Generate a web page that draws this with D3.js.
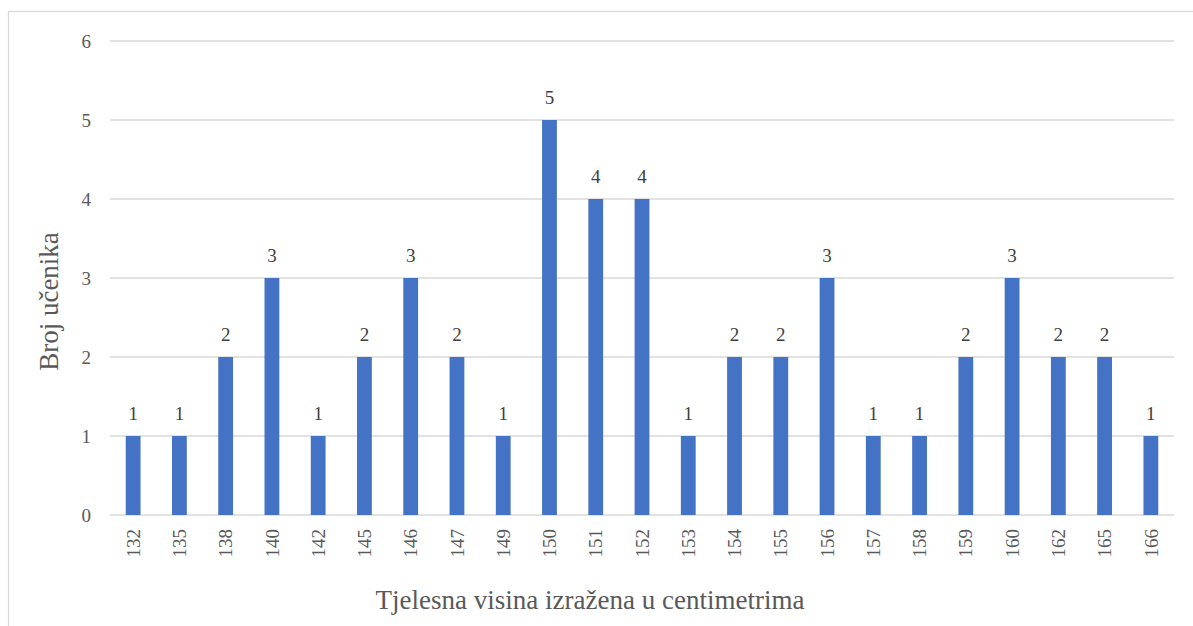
<!DOCTYPE html>
<html>
<head>
<meta charset="utf-8">
<script src="https://cdn.jsdelivr.net/npm/d3@7"></script>
<style>
  html, body { margin: 0; padding: 0; background: #fff; }
  svg { display: block; }
</style>
</head>
<body>
<svg id="chart" width="1193" height="626"></svg>
<script>
const categories = ["132","135","138","140","142","145","146","147","149","150","151","152","153","154","155","156","157","158","159","160","162","165","166"];
const values = [1,1,2,3,1,2,3,2,1,5,4,4,1,2,2,3,1,1,2,3,2,2,1];
const yTicks = [0,1,2,3,4,5,6];
const xTitle = "Tjelesna visina izražena u centimetrima";
const yTitle = "Broj učenika";

const W = 1193, H = 626;
const margin = {left: 110, right: 19, top: 41, bottom: 111};
const svg = d3.select("#chart");
const font = "'Liberation Serif', 'Times New Roman', serif";

// outer chart border
svg.append("rect")
  .attr("x", 8.5).attr("y", 11.5)
  .attr("width", 1200).attr("height", 700)
  .attr("fill", "#fff").attr("stroke", "#D9D9D9").attr("stroke-width", 1.3);

const x = d3.scaleBand()
  .domain(categories)
  .range([margin.left, W - margin.right])
  .paddingInner(0.68).paddingOuter(0.34);

const y = d3.scaleLinear()
  .domain([0, 6])
  .range([H - margin.bottom, margin.top]);

// gridlines
svg.append("g")
  .selectAll("line")
  .data(yTicks)
  .join("line")
  .attr("x1", margin.left).attr("x2", W - margin.right)
  .attr("y1", d => y(d)).attr("y2", d => y(d))
  .attr("stroke", "#D9D9D9").attr("stroke-width", 1.3);

// y axis labels
const yAxis = d3.axisLeft(y).tickValues(yTicks).tickSize(0).tickPadding(0).tickFormat(d3.format("d"));
const yg = svg.append("g").attr("transform", `translate(${margin.left - 19},0)`).call(yAxis);
yg.select(".domain").remove();
yg.selectAll("text").attr("font-family", font).attr("font-size", 19).attr("fill", "#595959");

// bars
svg.append("g")
  .selectAll("rect")
  .data(values)
  .join("rect")
  .attr("x", (d, i) => x(categories[i]))
  .attr("y", d => y(d))
  .attr("width", x.bandwidth())
  .attr("height", d => y(0) - y(d))
  .attr("fill", "#4472C4");

// data labels
svg.append("g")
  .selectAll("text")
  .data(values)
  .join("text")
  .attr("x", (d, i) => x(categories[i]) + x.bandwidth() / 2)
  .attr("y", d => y(d) - 16)
  .attr("text-anchor", "middle")
  .attr("font-family", font).attr("font-size", 19)
  .attr("fill", "#404040")
  .text(d => d);

// x axis labels (rotated)
const xAxis = d3.axisBottom(x).tickSize(0).tickPadding(0);
const xg = svg.append("g").attr("transform", `translate(0,${y(0)})`).call(xAxis);
xg.select(".domain").remove();
xg.selectAll("text")
  .attr("font-family", font).attr("font-size", 19).attr("fill", "#595959")
  .attr("transform", "rotate(-90)")
  .attr("x", -14).attr("y", 0).attr("dy", "0.35em")
  .attr("text-anchor", "end");

// axis titles
svg.append("text")
  .attr("x", 590)
  .attr("y", 609)
  .attr("text-anchor", "middle")
  .attr("font-family", font).attr("font-size", 27).attr("fill", "#595959")
  .text(xTitle);

svg.append("text")
  .attr("transform", `translate(58,301.5) rotate(-90)`)
  .attr("text-anchor", "middle")
  .attr("font-family", font).attr("font-size", 27).attr("fill", "#595959")
  .text(yTitle);
</script>
</body>
</html>
